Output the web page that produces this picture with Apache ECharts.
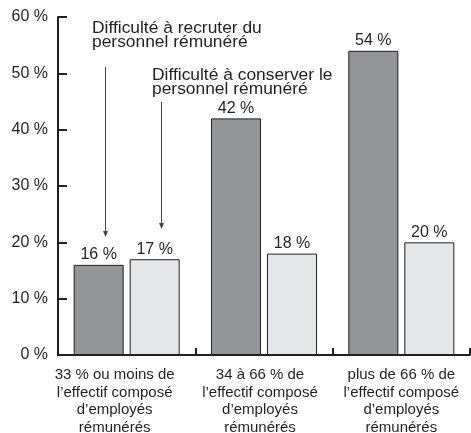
<!DOCTYPE html>
<html>
<head>
<meta charset="utf-8">
<script src="https://cdn.jsdelivr.net/npm/echarts@6/dist/echarts.min.js"></script>
<style>
    html, body { margin: 0; padding: 0; background: #fff; }
    #chart { width: 471px; height: 433px; }
</style>
</head>
<body>
<div id="chart"></div>
<script>
    var categories = [
        '33 % ou moins de\nl\u2019effectif composé\nd\u2019employés\nrémunérés',
        '34 à 66 % de\nl\u2019effectif composé\nd\u2019employés\nrémunérés',
        'plus de 66 % de\nl\u2019effectif composé\nd\u2019employés\nrémunérés'
    ];
    var recruter = [16, 42, 54];
    var conserver = [17, 18, 20];
    var yTicks = [0, 10, 20, 30, 40, 50, 60];

    var ink = '#231f20';
    var font = '"Liberation Sans", Arial, sans-serif';

    // labels in the original are not quite centred on their category
    var labelPad = [[0, 24, 0, 0], [0, 8, 0, 0], [0, 0, 0, 0]];

    var chart = echarts.init(document.getElementById('chart'));
    chart.setOption({
        animation: false,
        textStyle: { fontFamily: font, color: ink },
        grid: { left: 58, right: 1, top: 17, bottom: 78, outerBoundsMode: 'none', containLabel: false },
        xAxis: {
            type: 'category',
            data: categories.map(function (c, i) {
                return { value: c, textStyle: { padding: labelPad[i] } };
            }),
            boundaryGap: true,
            axisLine: { lineStyle: { color: ink, width: 2 } },
            // negative length draws the ticks upward, into the plot
            axisTick: { show: true, inside: false, length: -7, lineStyle: { color: ink, width: 2 } },
            axisLabel: {
                interval: 0,
                color: ink, fontSize: 15, lineHeight: 17.7, margin: 11,
                fontFamily: font, align: 'center'
            }
        },
        yAxis: {
            type: 'value',
            min: yTicks[0],
            max: yTicks[yTicks.length - 1],
            interval: 10,
            splitLine: { show: false },
            axisLine: { show: true, lineStyle: { color: ink, width: 2 } },
            axisTick: { show: true, inside: false, length: -9, lineStyle: { color: ink, width: 2 } },
            axisLabel: {
                color: ink, fontSize: 16, margin: 10, fontFamily: font,
                formatter: '{value} %'
            }
        },
        series: [
            {
                name: 'Difficulté à recruter du personnel rémunéré',
                type: 'bar',
                data: recruter,
                barWidth: 50,
                barGap: '12%',
                itemStyle: { color: '#939598', borderColor: ink, borderWidth: 1 },
                label: {
                    show: true, position: 'top', distance: 2,
                    formatter: '{c} %', fontSize: 16, color: ink, fontFamily: font
                }
            },
            {
                name: 'Difficulté à conserver le personnel rémunéré',
                type: 'bar',
                data: conserver,
                barWidth: 50,
                itemStyle: { color: '#e6e7e8', borderColor: ink, borderWidth: 1 },
                label: {
                    show: true, position: 'top', distance: 2,
                    formatter: '{c} %', fontSize: 16, color: ink, fontFamily: font
                }
            }
        ],
        // annotations with arrows
        graphic: [
            {
                type: 'text', left: 92, top: 20,
                style: {
                    text: 'Difficulté à recruter du\npersonnel rémunéré',
                    fontSize: 17.4, fontFamily: font, fill: ink, lineHeight: 14
                }
            },
            {
                type: 'text', left: 152, top: 67,
                style: {
                    text: 'Difficulté à conserver le\npersonnel rémunéré',
                    fontSize: 17.4, fontFamily: font, fill: ink, lineHeight: 14
                }
            },
            { type: 'line', shape: { x1: 105.5, y1: 67, x2: 105.5, y2: 235 }, style: { stroke: '#444', lineWidth: 1 } },
            { type: 'polygon', shape: { points: [[103, 231], [108, 231], [105.5, 237]] }, style: { fill: '#444' } },
            { type: 'line', shape: { x1: 161.5, y1: 102, x2: 161.5, y2: 226 }, style: { stroke: '#444', lineWidth: 1 } },
            { type: 'polygon', shape: { points: [[159, 223], [164, 223], [161.5, 229]] }, style: { fill: '#444' } }
        ]
    });
</script>
</body>
</html>
